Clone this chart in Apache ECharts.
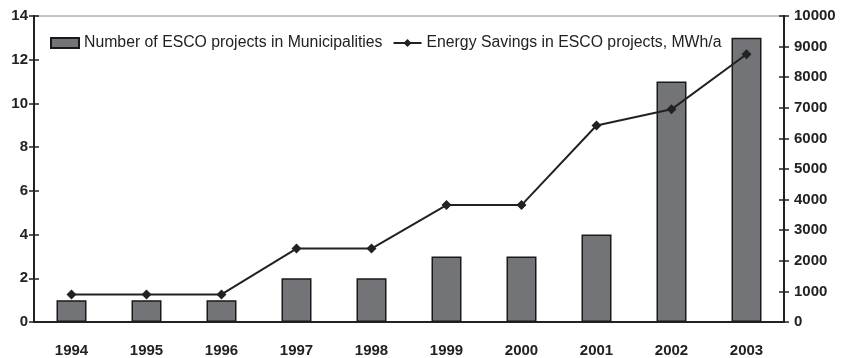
<!DOCTYPE html>
<html>
<head>
<meta charset="utf-8">
<script src="https://cdn.jsdelivr.net/npm/echarts@6/dist/echarts.min.js"></script>
<style>
  html, body { margin: 0; padding: 0; background: #fff; }
  #chart { width: 842px; height: 358px; }
</style>
</head>
<body>
<div id="chart"></div>
<script>
  // data
  var years = ['1994', '1995', '1996', '1997', '1998', '1999', '2000', '2001', '2002', '2003'];
  var projects = [1, 1, 1, 2, 2, 3, 3, 4, 11, 13];
  var savings = [900, 900, 900, 2400, 2400, 3820, 3820, 6420, 6950, 8750];

  var font = '"Liberation Sans", Arial, sans-serif';
  var labelStyle = { color: '#222', fontWeight: 'bold', fontSize: 15, fontFamily: font };
  var axLine = { color: '#222', width: 2 };
  var tickLine = { color: '#222', width: 1.5 };

  // ticks cross the axis line in the original: draw an outside and an inside copy
  function yAx(pos, min, max, step, inside) {
    return {
      type: 'value', position: pos, min: min, max: max, interval: step,
      splitLine: { show: false },
      axisLine: { show: true, lineStyle: axLine },
      axisTick: { show: true, inside: inside, length: 5, lineStyle: tickLine },
      axisLabel: inside ? { show: false } :
        Object.assign({ margin: pos === 'left' ? 6 : 10, formatter: function (v) { return String(v); } }, labelStyle)
    };
  }
  function xAx(inside) {
    return {
      type: 'category', position: 'bottom', data: years,
      axisLine: { lineStyle: axLine },
      axisTick: { inside: inside, length: 5, lineStyle: tickLine },
      axisLabel: inside ? { show: false } : Object.assign({ margin: 21 }, labelStyle)
    };
  }

  var chart = echarts.init(document.getElementById('chart'));
  chart.setOption({
    animation: false,
    grid: {
      left: 34, right: 58, top: 16, bottom: 35,
      show: true, borderColor: '#8a8a8a', borderWidth: 1
    },
    legend: {
      left: 50, top: 35, padding: 0, itemGap: 10, itemWidth: 28, itemHeight: 10,
      textStyle: { fontFamily: font, fontSize: 15.8, color: '#222' },
      data: [
        { name: 'Number of ESCO projects in Municipalities', icon: 'rect',
          itemStyle: { borderWidth: 2 } },
        { name: 'Energy Savings in ESCO projects, MWh/a' }
      ]
    },
    xAxis: [xAx(false), xAx(true)],
    yAxis: [
      yAx('left', 0, 14, 2, false),
      yAx('right', 0, 10000, 1000, false),
      yAx('left', 0, 14, 2, true),
      yAx('right', 0, 10000, 1000, true)
    ],
    series: [{
      name: 'Number of ESCO projects in Municipalities',
      type: 'bar',
      data: projects,
      barWidth: 30,
      itemStyle: { color: '#737478', borderColor: '#1a1a1a', borderWidth: 1.5 }
    }, {
      name: 'Energy Savings in ESCO projects, MWh/a',
      type: 'line',
      yAxisIndex: 1,
      data: savings,
      symbol: 'diamond',
      symbolSize: 10,
      lineStyle: { color: '#222', width: 2 },
      itemStyle: { color: '#222' }
    }]
  });
</script>
</body>
</html>
